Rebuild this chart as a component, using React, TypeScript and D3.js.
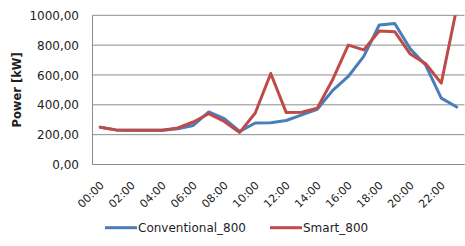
import React from "react";
import * as d3 from "d3";

const hours: string[] = [
  "00:00","01:00","02:00","03:00","04:00","05:00","06:00","07:00",
  "08:00","09:00","10:00","11:00","12:00","13:00","14:00","15:00",
  "16:00","17:00","18:00","19:00","20:00","21:00","22:00","23:00",
];
const conventional: number[] = [250, 232, 230, 230, 230, 240, 262, 352, 308, 222, 278, 280, 295, 333, 370, 497, 590, 725, 935, 945, 775, 665, 445, 385];
const smart: number[] = [250, 232, 230, 230, 230, 245, 285, 340, 288, 215, 345, 610, 348, 350, 378, 570, 800, 768, 895, 890, 740, 675, 545, 1050];
const yTicks: number[] = [0, 200, 400, 600, 800, 1000];
const xTickLabels: string[] = hours.filter((_, i) => i % 2 === 0);
const seriesNames: string[] = ["Conventional_800", "Smart_800"];

const W = 465, H = 246;
const left = 92.5, right = 464.5, top = 15.3, bottom = 164.5;
const BLUE = "#4a7ebb";
const RED = "#be4b48";
const GRID = "#8c8c8c";
const FONT = "DejaVu Sans, sans-serif";
const TEXT = "#1e1e1e";

export default function App() {
  const x = d3.scaleBand<string>().domain(hours).range([left, right]).padding(0);
  const cx = (h: string) => (x(h) as number) + x.bandwidth() / 2;
  const y = d3.scaleLinear().domain([0, 1000]).range([bottom, top]);
  const fmt = (v: number) => d3.format(".2f")(v).replace(".", ",");
  const line = d3.line<number>().x((_, i) => cx(hours[i])).y((d) => y(d));

  return (
    <svg width={W} height={H} style={{ position: "absolute", left: 0, top: 0, background: "#fff" }}>
      <defs>
        <clipPath id="plot">
          <rect x={left} y={top} width={right - left} height={bottom - top} />
        </clipPath>
      </defs>
      {yTicks.map((t) => (
        <g key={t}>
          <line x1={left} x2={right} y1={y(t)} y2={y(t)} stroke={GRID} strokeWidth={1} />
          <text x={79} y={y(t)} dy="0.38em" textAnchor="end" fontFamily={FONT} fontSize={12} fill={TEXT}>
            {fmt(t)}
          </text>
        </g>
      ))}
      <line x1={left} x2={left} y1={top} y2={bottom} stroke={GRID} strokeWidth={1} />
      <line x1={left} x2={right} y1={bottom} y2={bottom} stroke={GRID} strokeWidth={1} />
      <text
        transform={`translate(21,${(top + bottom) / 2}) rotate(-90)`}
        textAnchor="middle"
        fontFamily={FONT}
        fontSize={11.5}
        fontWeight="bold"
        fill={TEXT}
      >
        Power [kW]
      </text>
      {xTickLabels.map((h) => (
        <text
          key={h}
          transform={`translate(${cx(h) + 4.5},186) rotate(-45)`}
          textAnchor="end"
          fontFamily={FONT}
          fontSize={11}
          fill={TEXT}
        >
          {h}
        </text>
      ))}
      <g clipPath="url(#plot)">
        <path d={line(conventional) as string} fill="none" stroke={BLUE} strokeWidth={3} strokeLinejoin="round" strokeLinecap="round" />
        <path d={line(smart) as string} fill="none" stroke={RED} strokeWidth={3} strokeLinejoin="round" strokeLinecap="round" />
      </g>
      <g>
        <line x1={105} x2={137} y1={227.7} y2={227.7} stroke={BLUE} strokeWidth={3} />
        <text x={138} y={227.7} dy="0.36em" fontFamily={FONT} fontSize={12} fill={TEXT}>{seriesNames[0]}</text>
        <line x1={270} x2={302} y1={227.7} y2={227.7} stroke={RED} strokeWidth={3} />
        <text x={303} y={227.7} dy="0.36em" fontFamily={FONT} fontSize={12} fill={TEXT}>{seriesNames[1]}</text>
      </g>
    </svg>
  );
}
